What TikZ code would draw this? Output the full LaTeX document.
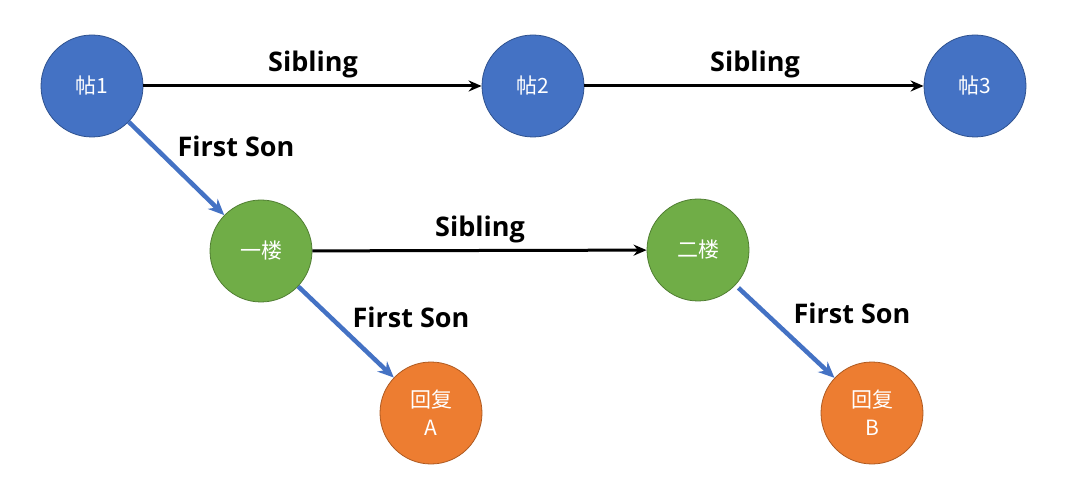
\documentclass[tikz,border=0pt]{standalone}
\usepackage{fontspec}
\setmainfont{Open Sans}
\newfontfamily\cjk{Noto Sans CJK SC}
\usetikzlibrary{arrows.meta}
\definecolor{cblue}{HTML}{4472C4}
\definecolor{cblueb}{HTML}{2F528F}
\definecolor{cgreen}{HTML}{70AD47}
\definecolor{cgreenb}{HTML}{507E32}
\definecolor{corange}{HTML}{ED7D31}
\definecolor{coranb}{HTML}{AE5A21}
\tikzset{
  nd/.style={circle, minimum size=102pt, inner sep=0pt, line width=0.8pt, text=white, font=\cjk\fontsize{21}{28}\selectfont, align=center},
  post/.style={nd, fill=cblue, draw=cblueb},
  floor/.style={nd, fill=cgreen, draw=cgreenb},
  reply/.style={nd, fill=corange, draw=coranb},
  sib/.style={line width=3pt, black, -{Stealth[length=13pt,width=11pt]}},
  son/.style={line width=4.5pt, cblue, -{Stealth[length=16pt,width=14pt]}},
  lbl/.style={font=\bfseries\fontsize{27}{30}\selectfont},
}
\begin{document}
\begin{tikzpicture}[x=1pt,y=-1pt]
\useasboundingbox (0,0) rectangle (1068,494);
\node[post] (p1) at (92,86) {帖1};
\node[post] (p2) at (533,86) {帖2};
\node[post] (p3) at (975,86) {帖3};
\node[floor] (f1) at (261,251) {一楼};
\node[floor] (f2) at (698,250) {二楼};
\node[reply] (rA) at (431,413) {回复\\A};
\node[reply] (rB) at (872,413) {回复\\B};
\draw[sib] (p1) -- (p2);
\draw[sib] (p2) -- (p3);
\draw[sib] (f1) -- (f2);
\draw[son] (p1) -- (f1);
\draw[son] (f1) -- (rA);
\draw[son, shorten <=4pt] (f2) -- (rB);
\node[lbl] (s1) at (313,64) {Sibling};
\node[lbl] (s2) at (755,64) {Sibling};
\node[lbl] (s3) at (480,229) {Sibling};
\node[lbl] (fs1) at (236,146) {First Son};
\node[lbl] (fs2) at (411,317) {First Son};
\node[lbl] (fs3) at (852,313) {First Son};
\end{tikzpicture}
\end{document}
